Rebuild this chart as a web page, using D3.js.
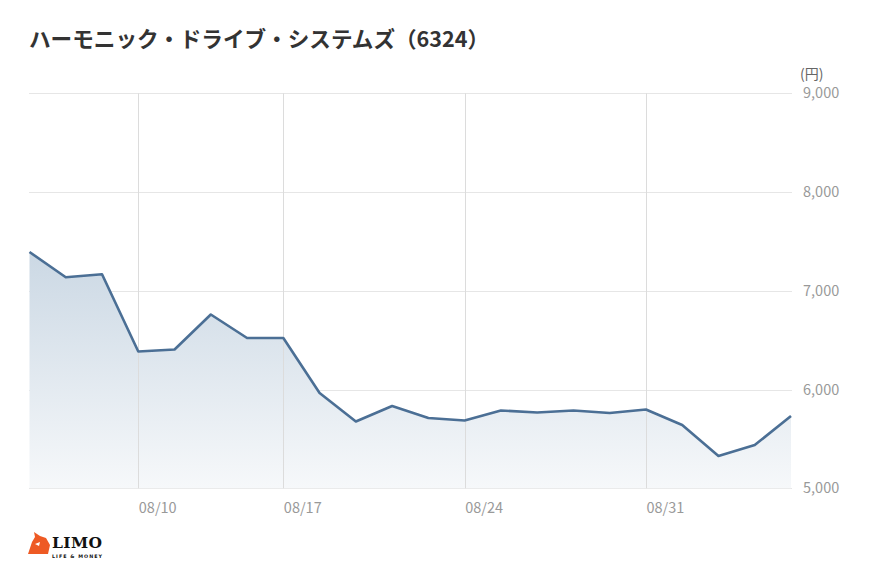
<!DOCTYPE html>
<html>
<head>
<meta charset="utf-8">
<script src="https://cdn.jsdelivr.net/npm/d3@7"></script>
<style>
  html, body { margin: 0; padding: 0; background: #fff; }
  svg { display: block; }
</style>
</head>
<body>
<svg id="chart" width="870" height="582"></svg>
<script>
const titleText = "ハーモニック・ドライブ・システムズ（6324）";
const dates = ["08/05","08/06","08/07","08/11","08/12","08/13","08/14","08/17","08/18","08/19","08/20","08/21","08/24","08/25","08/26","08/27","08/28","08/31","09/01","09/02","09/03","09/04"];
const prices = [7393,7137,7167,6385,6406,6760,6522,6522,5965,5676,5833,5712,5687,5788,5768,5788,5762,5798,5641,5327,5438,5732];
const tickDates = ["08/11","08/17","08/24","08/31"];
const tickLabels = ["08/10","08/17","08/24","08/31"];
const yTicks = [5000,6000,7000,8000,9000];
const yUnit = "(円)";

const svg = d3.select("#chart");
const font = "'Noto Sans CJK JP','Noto Sans',sans-serif";

const x = d3.scalePoint().domain(dates).range([29.5, 791]);
const y = d3.scaleLinear().domain([5000, 9000]).range([488.3, 93.3]);

// title
svg.append("text").attr("x", 29).attr("y", 47)
  .attr("font-family", font).attr("font-weight", "bold").attr("font-size", 21.6)
  .attr("fill", "#333").text(titleText);

// gradient
const defs = svg.append("defs");
const grad = defs.append("linearGradient").attr("id", "g")
  .attr("gradientUnits", "userSpaceOnUse")
  .attr("x1", 0).attr("x2", 0)
  .attr("y1", y(7400)).attr("y2", y(5000));
grad.append("stop").attr("offset", 0).attr("stop-color", "#cbd8e4");
grad.append("stop").attr("offset", 1).attr("stop-color", "#f6f8fa");

// horizontal grid
svg.append("g").selectAll("line").data(yTicks).join("line")
  .attr("x1", 29).attr("x2", 792)
  .attr("y1", d => Math.round(y(d)) + 0.5).attr("y2", d => Math.round(y(d)) + 0.5)
  .attr("stroke", "#e6e6e6").attr("stroke-width", 1);

// area
const area = d3.area().x((d, i) => x(dates[i])).y0(y(5000)).y1(d => y(d));
svg.append("path").datum(prices).attr("d", area).attr("fill", "url(#g)");

// vertical grid
svg.append("g").selectAll("line").data(tickDates).join("line")
  .attr("x1", d => Math.round(x(d)) + 0.5).attr("x2", d => Math.round(x(d)) + 0.5)
  .attr("y1", y(9000)).attr("y2", y(5000))
  .attr("stroke", "#dcdcdc").attr("stroke-width", 1);

// line
const line = d3.line().x((d, i) => x(dates[i])).y(d => y(d));
svg.append("path").datum(prices).attr("d", line)
  .attr("fill", "none").attr("stroke", "#4b6f95").attr("stroke-width", 2.6)
  .attr("stroke-linejoin", "round");

// y axis labels
const yAxis = d3.axisRight(y).tickValues(yTicks).tickFormat(d3.format(",")).tickSize(0).tickPadding(0);
const gy = svg.append("g").attr("transform", "translate(803,0)").call(yAxis);
gy.select(".domain").remove();
gy.selectAll("text").attr("font-family", font).attr("font-size", 14.5).attr("fill", "#999");

svg.append("text").attr("x", 800).attr("y", 79)
  .attr("font-family", font).attr("font-size", 14).attr("fill", "#666").text(yUnit);

// x axis labels
const xAxis = d3.axisBottom(x).tickValues(tickDates).tickFormat((d, i) => tickLabels[i]).tickSize(0).tickPadding(0);
const gx = svg.append("g").attr("transform", "translate(0,500)").call(xAxis);
gx.select(".domain").remove();
gx.selectAll("text").attr("font-family", font).attr("font-size", 14.5).attr("fill", "#999")
  .attr("text-anchor", "start").attr("dy", "0.9em");

// logo
const logo = svg.append("g").attr("transform", "translate(28,532)");
logo.append("path").attr("d", "M0,22 L4,10 L7,5 L6,0 L12,4 L18,6 L22,13 L20,22 Z").attr("fill", "#ee5a24");
logo.append("path").attr("d", "M7,12 L12,10 L11,14 Z").attr("fill", "#fff");
logo.append("text").attr("x", 24).attr("y", 16).attr("font-family", "'DejaVu Serif',serif")
  .attr("font-weight", "bold").attr("font-size", 15.5).attr("fill", "#111").attr("textLength", 50).text("LIMO");
logo.append("text").attr("x", 24).attr("y", 25.5).attr("font-family", "'DejaVu Sans',sans-serif")
  .attr("font-weight", "bold").attr("font-size", 4.8).attr("fill", "#111").attr("textLength", 50).text("LIFE & MONEY");
</script>
</body>
</html>
